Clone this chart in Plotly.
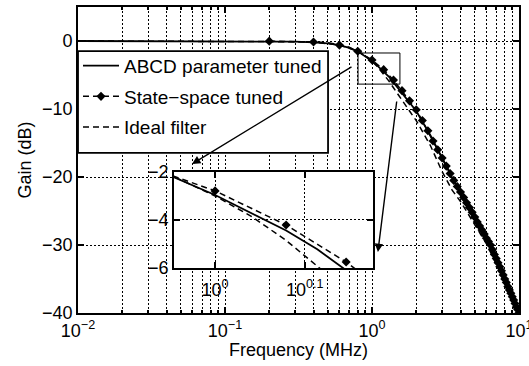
import plotly.graph_objects as go

# ---------------- data ----------------
freq_abcd = [0.01, 0.05, 0.1, 0.2, 0.3, 0.4, 0.5, 0.6, 0.7, 0.8, 0.9, 1.0, 1.1, 1.2, 1.3,
             1.4, 1.5, 1.6, 1.8, 2.0, 2.5, 3.0, 3.5, 4.0, 5.0, 6.0, 7.0, 8.0, 9.0, 10.0]
gain_abcd = [0.0, 0.0, -0.01, -0.04, -0.1, -0.2, -0.36, -0.62, -1.0, -1.5, -2.22, -2.96, -3.72,
             -4.44, -5.22, -6.08, -6.9, -7.6, -9.0, -10.3, -13.9, -17.3, -20.1, -22.5, -26.2,
             -29.3, -32.3, -35.2, -37.8, -40.0]

freq_ideal = [0.01, 0.05, 0.1, 0.2, 0.3, 0.4, 0.5, 0.6, 0.7, 0.8, 0.9, 1.0, 1.1, 1.2, 1.3,
              1.4, 1.5, 1.6, 1.8, 2.0, 2.5, 3.0, 3.5, 4.0, 5.0, 6.0, 7.0, 8.0, 9.0, 10.0]
gain_ideal = [0.0, 0.0, 0.0, -0.01, -0.04, -0.11, -0.26, -0.53, -0.93, -1.5, -2.2, -3.0, -3.87,
              -4.85, -5.86, -6.88, -7.87, -8.75, -10.3, -11.7, -15.4, -19.2, -21.9, -23.6, -27.0,
              -29.8, -32.8, -35.5, -37.9, -40.0]

freq_ss = [0.2, 0.4, 0.6, 0.8, 1.0, 1.2, 1.4, 1.6, 1.8, 2.0, 2.2, 2.4, 2.6, 2.8, 3.0, 3.2, 3.4,
           3.6, 3.8, 4.0, 4.2, 4.4, 4.6, 4.8, 5.0, 5.2, 5.4, 5.6, 5.8, 6.0, 6.2, 6.4, 6.6, 6.8,
           7.0, 7.2, 7.4, 7.6, 7.8, 8.0, 8.2, 8.4, 8.6, 8.8, 9.0, 9.2, 9.4, 9.6, 9.8, 10.0]
gain_ss = [-0.02, -0.15, -0.6, -1.5, -2.79, -4.21, -5.75, -7.3, -8.8, -10.1, -11.7, -13.2, -14.7,
           -16.0, -17.2, -18.4, -19.5, -20.5, -21.4, -22.2, -23.0, -23.8, -24.5, -25.2, -25.9,
           -26.6, -27.2, -27.8, -28.4, -29.0, -29.5, -30.0, -30.7, -31.4, -32.0, -32.6, -33.2,
           -33.8, -34.4, -35.0, -35.5, -36.1, -36.6, -37.1, -37.6, -38.1, -38.6, -39.1, -39.5,
           -40.0]

series_names = ["ABCD parameter tuned", "State\u2212space tuned", "Ideal filter"]

main_xticks = [0.01, 0.1, 1, 10]
main_xticktext = ["10<sup>\u22122</sup>", "10<sup>\u22121</sup>", "10<sup>0</sup>", "10<sup>1</sup>"]
main_xminor = [m * d for d in (0.01, 0.1, 1) for m in range(2, 10)]
main_yticks = [0, -10, -20, -30, -40]

inset_xticks = [1.0, 10 ** 0.1]
inset_xticktext = ["10<sup>0</sup>", "10<sup>0.1</sup>"]
inset_yticks = [-2, -4, -6]

# ---------------- figure ----------------
FONT = "Liberation Sans, Arial, sans-serif"
GRID = "black"
GDASH = "2px,2px"
fig = go.Figure()

styles = [
    dict(mode="lines", line=dict(color="black", width=1.8)),
    dict(mode="lines+markers", line=dict(color="black", width=1.5, dash="6px,4px"),
         marker=dict(symbol="diamond", size=7, color="black")),
    dict(mode="lines", line=dict(color="black", width=1.5, dash="6px,4px")),
]
data = [(freq_abcd, gain_abcd), (freq_ss, gain_ss), (freq_ideal, gain_ideal)]

for i, ((fx, gy), st) in enumerate(zip(data, styles)):
    fig.add_trace(go.Scatter(x=fx, y=gy, name=series_names[i], legendgroup=str(i),
                             showlegend=True, xaxis="x", yaxis="y", **st))
for i, ((fx, gy), st) in enumerate(zip(data, styles)):
    fig.add_trace(go.Scatter(x=fx, y=gy, name=series_names[i], legendgroup=str(i),
                             showlegend=False, xaxis="x2", yaxis="y2", **st))

axis_common = dict(showline=True, linecolor="black", linewidth=1.8, mirror="allticks",
                   ticks="inside", tickcolor="black", ticklen=6, tickwidth=1.5,
                   showgrid=True, gridcolor=GRID, gridwidth=1, griddash=GDASH,
                   zeroline=False, ticklabeloverflow="allow", automargin=False,
                   tickfont=dict(size=18, color="black", family=FONT))

fig.update_layout(
    width=529, height=366,
    margin=dict(l=78, r=10, t=7, b=53, autoexpand=False),
    paper_bgcolor="white", plot_bgcolor="white",
    font=dict(family=FONT, size=18, color="black"),
    xaxis=dict(type="log", range=[-2, 1], tickvals=main_xticks, ticktext=main_xticktext,
               minor=dict(tickvals=main_xminor, ticks="inside", ticklen=3, tickcolor="black",
                          showgrid=True, gridcolor=GRID, griddash=GDASH, gridwidth=1),
               title=dict(text="Frequency (MHz)", font=dict(size=18), standoff=4),
               **axis_common),
    yaxis=dict(range=[-40, 5], tickvals=main_yticks,
               title=dict(text="Gain (dB)", font=dict(size=18), standoff=6),
               **axis_common),
    xaxis2=dict(type="log", domain=[0.2177, 0.669], anchor="y2",
                range=[-0.0458, 0.1761], tickvals=inset_xticks, ticktext=inset_xticktext,
                ticklabelstandoff=4, **axis_common),
    yaxis2=dict(domain=[0.147, 0.461], anchor="x2", range=[-6, -2], tickvals=inset_yticks,
                **axis_common),
    legend=dict(x=0, y=0.87, xanchor="left", yanchor="top", bgcolor="rgba(0,0,0,0)",
                borderwidth=0, font=dict(size=19, color="black"),
                traceorder="grouped", tracegroupgap=3, itemwidth=36),
    showlegend=True,
)

# legend frame (white box with black border)
fig.add_shape(type="rect", xref="paper", yref="paper", x0=0.0, x1=0.567, y0=0.523, y1=0.856,
              line=dict(color="black", width=1.8), fillcolor="white", layer="above")

# zoom rectangle in main plot
fig.add_shape(type="rect", xref="paper", yref="paper", x0=0.635, x1=0.730, y0=0.748, y1=0.8497,
              line=dict(color="black", width=1))

# arrows
fig.add_annotation(xref="paper", yref="paper", x=0.2585, y=0.4869, ax=161, ay=-98,
                   showarrow=True, arrowhead=2, arrowsize=1.2, arrowwidth=1.4,
                   arrowcolor="black", text="")
fig.add_annotation(xref="paper", yref="paper", x=0.680, y=0.1993, ax=19, ay=-152,
                   showarrow=True, arrowhead=2, arrowsize=1.2, arrowwidth=1.4,
                   arrowcolor="black", text="")

fig.write_html("out.html")
